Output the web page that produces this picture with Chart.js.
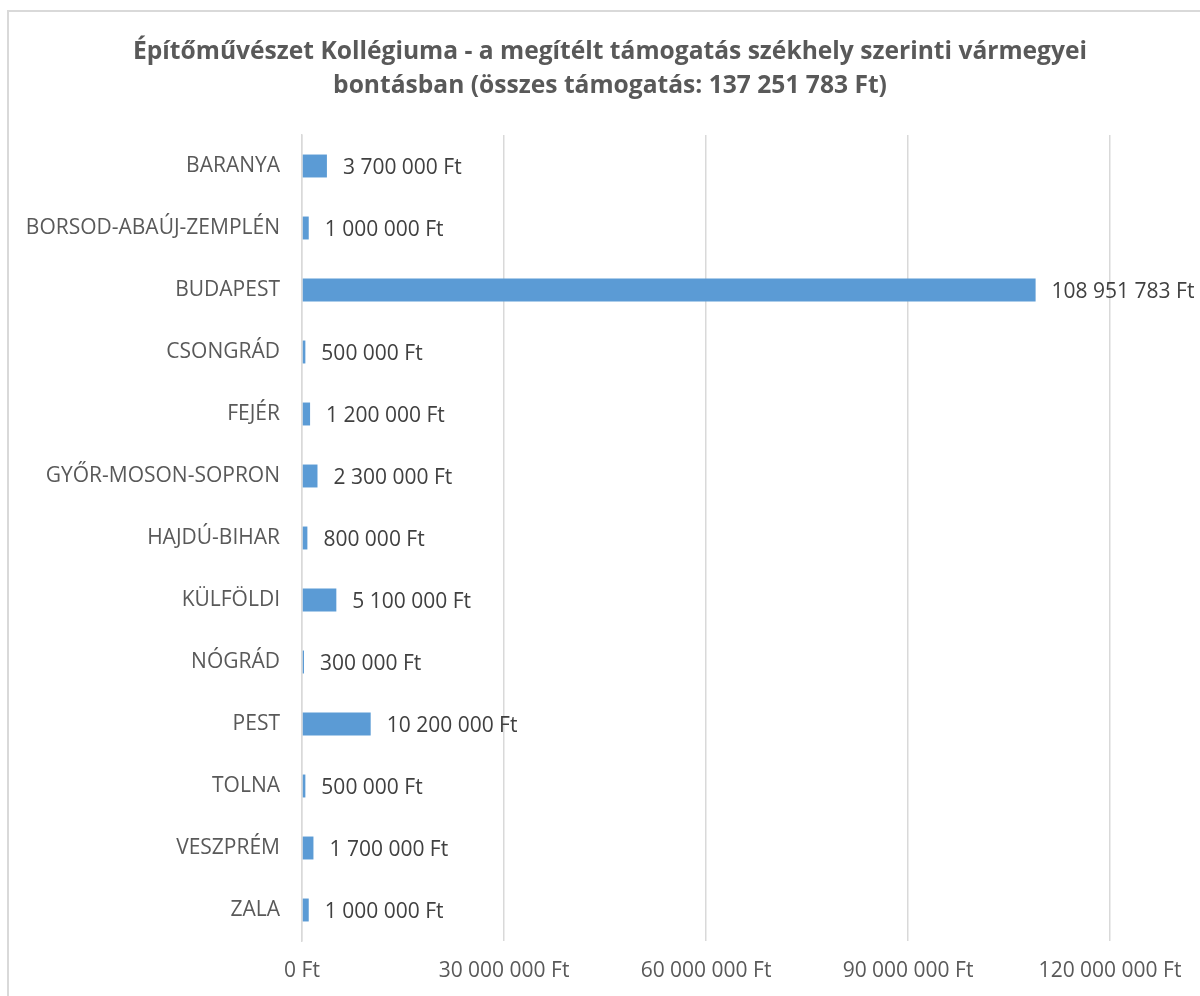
<!DOCTYPE html>
<html><head><meta charset="utf-8">
<script src="https://cdn.jsdelivr.net/npm/chart.js@4/dist/chart.umd.min.js"></script>
<style>html,body{margin:0;padding:0;background:#fff;overflow:hidden}#wrap{width:1200px;height:996px;position:relative}</style>
</head><body><div id="wrap"><canvas id="c" width="1200" height="996"></canvas></div>
<script>
const categories = ["BARANYA","BORSOD-ABAÚJ-ZEMPLÉN","BUDAPEST","CSONGRÁD","FEJÉR","GYŐR-MOSON-SOPRON","HAJDÚ-BIHAR","KÜLFÖLDI","NÓGRÁD","PEST","TOLNA","VESZPRÉM","ZALA"];
const values = [3700000,1000000,108951783,500000,1200000,2300000,800000,5100000,300000,10200000,500000,1700000,1000000];
const titleLines = ["Építőművészet Kollégiuma - a megítélt támogatás székhely szerinti vármegyei","bontásban (összes támogatás: 137 251 783 Ft)"];
const axisMax = 120000000, axisStep = 30000000;
const FONT = "'Open Sans', sans-serif";

function fmt(v){ return Math.round(v).toString().replace(/\B(?=(\d{3})+(?!\d))/g, " ") + " Ft"; }

const decor = {
  id:'decor',
  beforeDraw(chart){
    const ctx = chart.ctx;
    ctx.save();
    ctx.fillStyle='#fff'; ctx.fillRect(0,0,chart.width,chart.height);
    ctx.strokeStyle='#d9d9d9'; ctx.lineWidth=2;
    ctx.strokeRect(8,11,1400,1400);
    ctx.fillStyle='#595959';
    ctx.font = "bold 24.6px " + FONT;
    ctx.textAlign='center'; ctx.textBaseline='middle';
    ctx.fillText(titleLines[0], 610, 52);
    ctx.fillText(titleLines[1], 610, 86);
    ctx.restore();
  },
  afterDatasetsDraw(chart){
    const ctx = chart.ctx;
    const meta = chart.getDatasetMeta(0);
    ctx.save();
    ctx.fillStyle='#404040';
    ctx.font = "21px " + FONT;
    ctx.textAlign='left'; ctx.textBaseline='middle';
    meta.data.forEach((bar,i)=>{
      ctx.fillText(fmt(values[i]), bar.x + 16, bar.y + 2);
    });
    ctx.restore();
  }
};

new Chart(document.getElementById('c'), {
  type:'bar',
  data:{ labels: categories, datasets:[{ data: values, backgroundColor:'#5b9bd5', borderWidth:0, barPercentage:0.37, categoryPercentage:1 }]},
  options:{
    indexAxis:'y', responsive:false, animation:false, devicePixelRatio:1,
    layout:{ padding:{ top:135, left:10, right:90, bottom:0 } },
    plugins:{ legend:{display:false}, title:{display:false}, tooltip:{enabled:false} },
    scales:{
      x:{ min:0, max:axisMax,
          ticks:{ stepSize:axisStep, color:'#595959', font:{family:FONT,size:21}, padding:17, callback:(v)=>fmt(v) },
          grid:{ color:'#d9d9d9', lineWidth:1.5, drawTicks:false },
          border:{ display:false },
          afterFit(s){ s.height = 55; } },
      y:{ ticks:{ color:'#595959', font:{family:FONT,size:21}, padding:22 },
          grid:{ display:false, drawTicks:false },
          border:{ display:true, color:'#d9d9d9', width:1.5 },
          afterFit(s){ s.width = 292; } }
    }
  },
  plugins:[decor]
});
</script></body></html>
